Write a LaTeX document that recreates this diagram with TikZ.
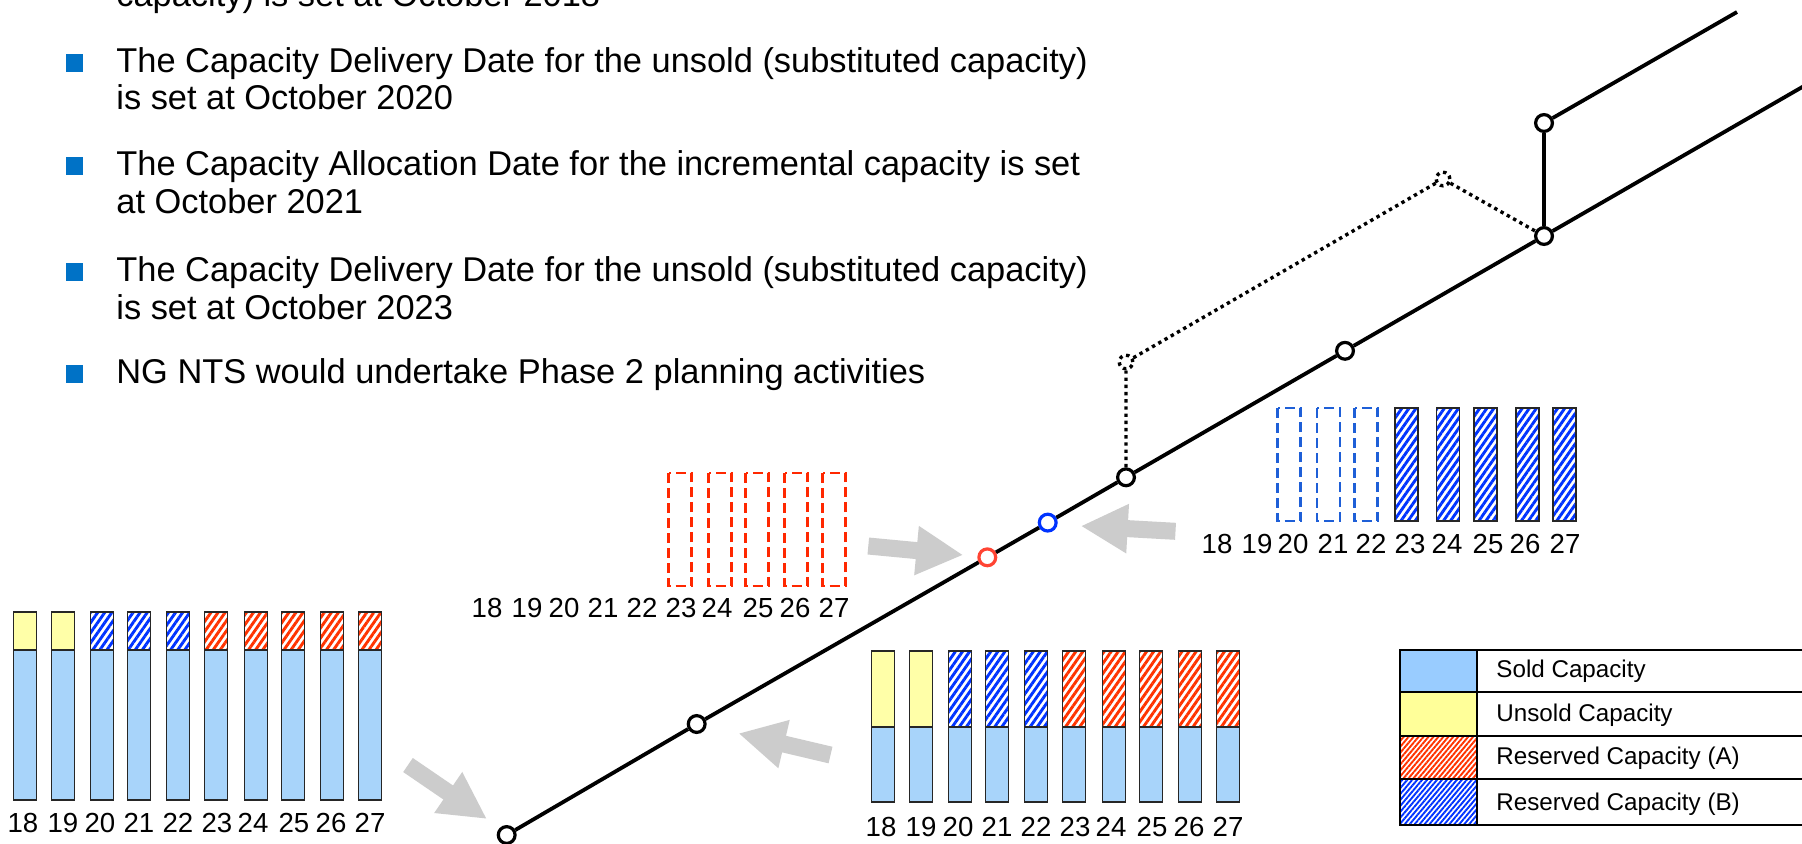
\documentclass[tikz,border=0pt]{standalone}
\usepackage{fontspec}
\setmainfont{Liberation Sans}
\usetikzlibrary{arrows.meta,patterns.meta}

\definecolor{soldblue}{RGB}{168,212,250}
\definecolor{unsoldyellow}{RGB}{255,255,168}
\definecolor{legsold}{RGB}{153,204,255}
\definecolor{legunsold}{RGB}{255,255,153}
\definecolor{hatchred}{RGB}{255,51,0}
\definecolor{hatchblue}{RGB}{0,51,255}
\definecolor{dashred}{RGB}{255,40,0}
\definecolor{dashblue}{RGB}{30,95,215}
\definecolor{arrowgray}{RGB}{204,204,204}
\definecolor{bulletblue}{RGB}{0,114,198}
\definecolor{nodered}{RGB}{255,68,51}
\definecolor{nodeblue}{RGB}{0,51,255}

\begin{document}
\begin{tikzpicture}[x=0.5pt,y=-0.5pt,
  bulletsq/.style={fill=bulletblue, draw=none, minimum size=8.8pt, inner sep=0pt},
  bullettext/.style={anchor=base west, inner sep=0pt, font=\fontsize{17.2}{20}\selectfont},
  yearlbl/.style={inner sep=0pt, font=\fontsize{13.8}{15}\selectfont},
  legtext/.style={anchor=base west, inner sep=0pt, font=\fontsize{12.1}{14}\selectfont},
  barline/.style={draw=black!85, line width=0.7pt},
  soldbar/.style={barline, fill=soldblue},
  unsoldbar/.style={barline, fill=unsoldyellow},
  stripes/.style={pattern={Lines[angle=55,distance=2.9pt,line width=1.45pt]}},
  finestripes/.style={pattern={Lines[angle=50,distance=1.9pt,line width=0.95pt]}},
  resA/.style={barline, stripes, pattern color=hatchred},
  resB/.style={barline, stripes, pattern color=hatchblue},
  ghostA/.style={draw=dashred, line width=1.2pt, dash pattern=on 5pt off 2.5pt},
  ghostB/.style={draw=dashblue, line width=1.2pt, dash pattern=on 5pt off 2.5pt},
  legline/.style={draw=black, line width=0.8pt},
  track/.style={line width=1.9pt},
  station/.style={circle, draw=black, fill=white, line width=1.6pt, minimum size=8.4pt, inner sep=0pt},
  dottedtrack/.style={line width=1.7pt, dash pattern=on 1.7pt off 1.9pt},
  ghoststation/.style={circle, draw=black, dottedtrack, minimum size=6.8pt, inner sep=0pt},
  bigarrow/.style={draw=arrowgray, line width=8.5pt, -{Triangle[width=23pt,length=23.5pt]}},
]
% canvas
\path[fill=white] (0,0) rectangle (1802,843);
\useasboundingbox (0,0) rectangle (1802,843);

% ---------- bullet list ----------
\node[bullettext] (t0b) at (116,6) {capacity) is set at October 2018};
\node[bulletsq] (b1) at (74.5,63) {};
\node[bullettext] (t1a) at (116,72) {The Capacity Delivery Date for the unsold (substituted capacity)};
\node[bullettext] (t1b) at (116,109) {is set at October 2020};
\node[bulletsq] (b2) at (74.5,166) {};
\node[bullettext] (t2a) at (116,175) {The Capacity Allocation Date for the incremental capacity is set};
\node[bullettext] (t2b) at (116,213) {at October 2021};
\node[bulletsq] (b3) at (74.5,272) {};
\node[bullettext] (t3a) at (116,281) {The Capacity Delivery Date for the unsold (substituted capacity)};
\node[bullettext] (t3b) at (116,319) {is set at October 2023};
\node[bulletsq] (b4) at (74.5,374) {};
\node[bullettext] (t4a) at (116,383) {NG NTS would undertake Phase 2 planning activities};

% ---------- bar chart: initial position (bottom left) ----------
\foreach \o/\kind in {2/unsoldbar,40/unsoldbar,79/resB,116/resB,155/resB,193/resA,233/resA,270/resA,309/resA,347/resA}{
  \pgfmathsetmacro\cx{23+\o}
  \draw[soldbar] (\cx-11.5,650) rectangle (\cx+11.5,800);
  \draw[\kind] (\cx-11.5,612) rectangle (\cx+11.5,650);
}
\foreach \o [count=\n from 18] in {0,40,77,116,155,194,230,271,308,347}
  \node[yearlbl] (ya\n) at (23+\o,823) {\n};

% ---------- bar chart: after allocation (bottom right) ----------
\foreach \o/\kind in {2/unsoldbar,40/unsoldbar,79/resB,116/resB,155/resB,193/resA,233/resA,270/resA,309/resA,347/resA}{
  \pgfmathsetmacro\cx{881+\o}
  \draw[soldbar] (\cx-11.5,727) rectangle (\cx+11.5,802);
  \draw[\kind] (\cx-11.5,651) rectangle (\cx+11.5,727);
}
\foreach \o [count=\n from 18] in {0,40,77,116,155,194,230,271,308,347}
  \node[yearlbl] (yb\n) at (881+\o,827) {\n};

% ---------- bar chart: released reserved capacity A ----------
\foreach \o in {193,233,270,309,347}{
  \pgfmathsetmacro\cx{487+\o}
  \draw[ghostA] (\cx-11.5,473) rectangle (\cx+11.5,586);
}
\foreach \o [count=\n from 18] in {0,40,77,116,155,194,230,271,308,347}
  \node[yearlbl] (yc\n) at (487+\o,608) {\n};

% ---------- bar chart: reserved capacity B ----------
\foreach \cx in {1289,1328.5,1366}
  \draw[ghostB] (\cx-11.5,408) rectangle (\cx+11.5,521);
\foreach \cx in {1406.5,1448,1485.5,1527.5,1564.5}
  \draw[resB] (\cx-11.5,408) rectangle (\cx+11.5,521);
\foreach \o [count=\n from 18] in {0,40,76,116,154,193,230,271,308,348}
  \node[yearlbl] (yd\n) at (1217+\o,544) {\n};

% ---------- timeline ----------
\node[station] (A) at (506.7,835) {};
\node[station] (B) at (696.7,724) {};
\node[station, draw=nodered] (R) at (987.3,557.3) {};
\node[station, draw=nodeblue] (L) at (1047.7,522.6) {};
\node[station] (C) at (1126,477.3) {};
\node[station] (D) at (1345,350.8) {};
\node[station] (E) at (1544,236) {};
\node[station] (F) at (1544,123) {};
\node[ghoststation] (P) at (1126,362) {};
\node[ghoststation] (Q) at (1443,179) {};
\coordinate (lineend) at (1830,71);
\coordinate (upperend) at (1737,12);

\draw[track] (A) -- (B) -- (R) -- (L) -- (C) -- (D) -- (E) -- (lineend);
\draw[track] (E) -- (F) -- (upperend);
\draw[dottedtrack] (C) -- (P) -- (Q) -- (E);

% ---------- grey pointers ----------
\coordinate (pa1) at (408,765);    \coordinate (pa2) at (487,819);
\coordinate (pb1) at (830.5,755);  \coordinate (pb2) at (738.3,733.3);
\coordinate (pc1) at (868.3,546);  \coordinate (pc2) at (963.3,555);
\coordinate (pd1) at (1175.5,531.3); \coordinate (pd2) at (1080.7,526);
\draw[bigarrow] (pa1) -- (pa2);
\draw[bigarrow] (pb1) -- (pb2);
\draw[bigarrow] (pc1) -- (pc2);
\draw[bigarrow] (pd1) -- (pd2);

% ---------- legend ----------
\draw[legline, fill=legsold]   (1400,650) rectangle (1477,692);
\draw[legline, fill=legunsold] (1400,692) rectangle (1477,736);
\draw[legline, finestripes, pattern color=hatchred] (1400,736) rectangle (1477,779);
\draw[legline, finestripes, pattern color=hatchblue] (1400,779) rectangle (1477,825);
\draw[legline] (1477,650) rectangle (1830,692);
\draw[legline] (1477,692) rectangle (1830,736);
\draw[legline] (1477,736) rectangle (1830,779);
\draw[legline] (1477,779) rectangle (1830,825);
\node[legtext] (lg1) at (1496,677) {Sold Capacity};
\node[legtext] (lg2) at (1496,721) {Unsold Capacity};
\node[legtext] (lg3) at (1496,764) {Reserved Capacity (A)};
\node[legtext] (lg4) at (1496,810) {Reserved Capacity (B)};
\end{tikzpicture}
\end{document}
